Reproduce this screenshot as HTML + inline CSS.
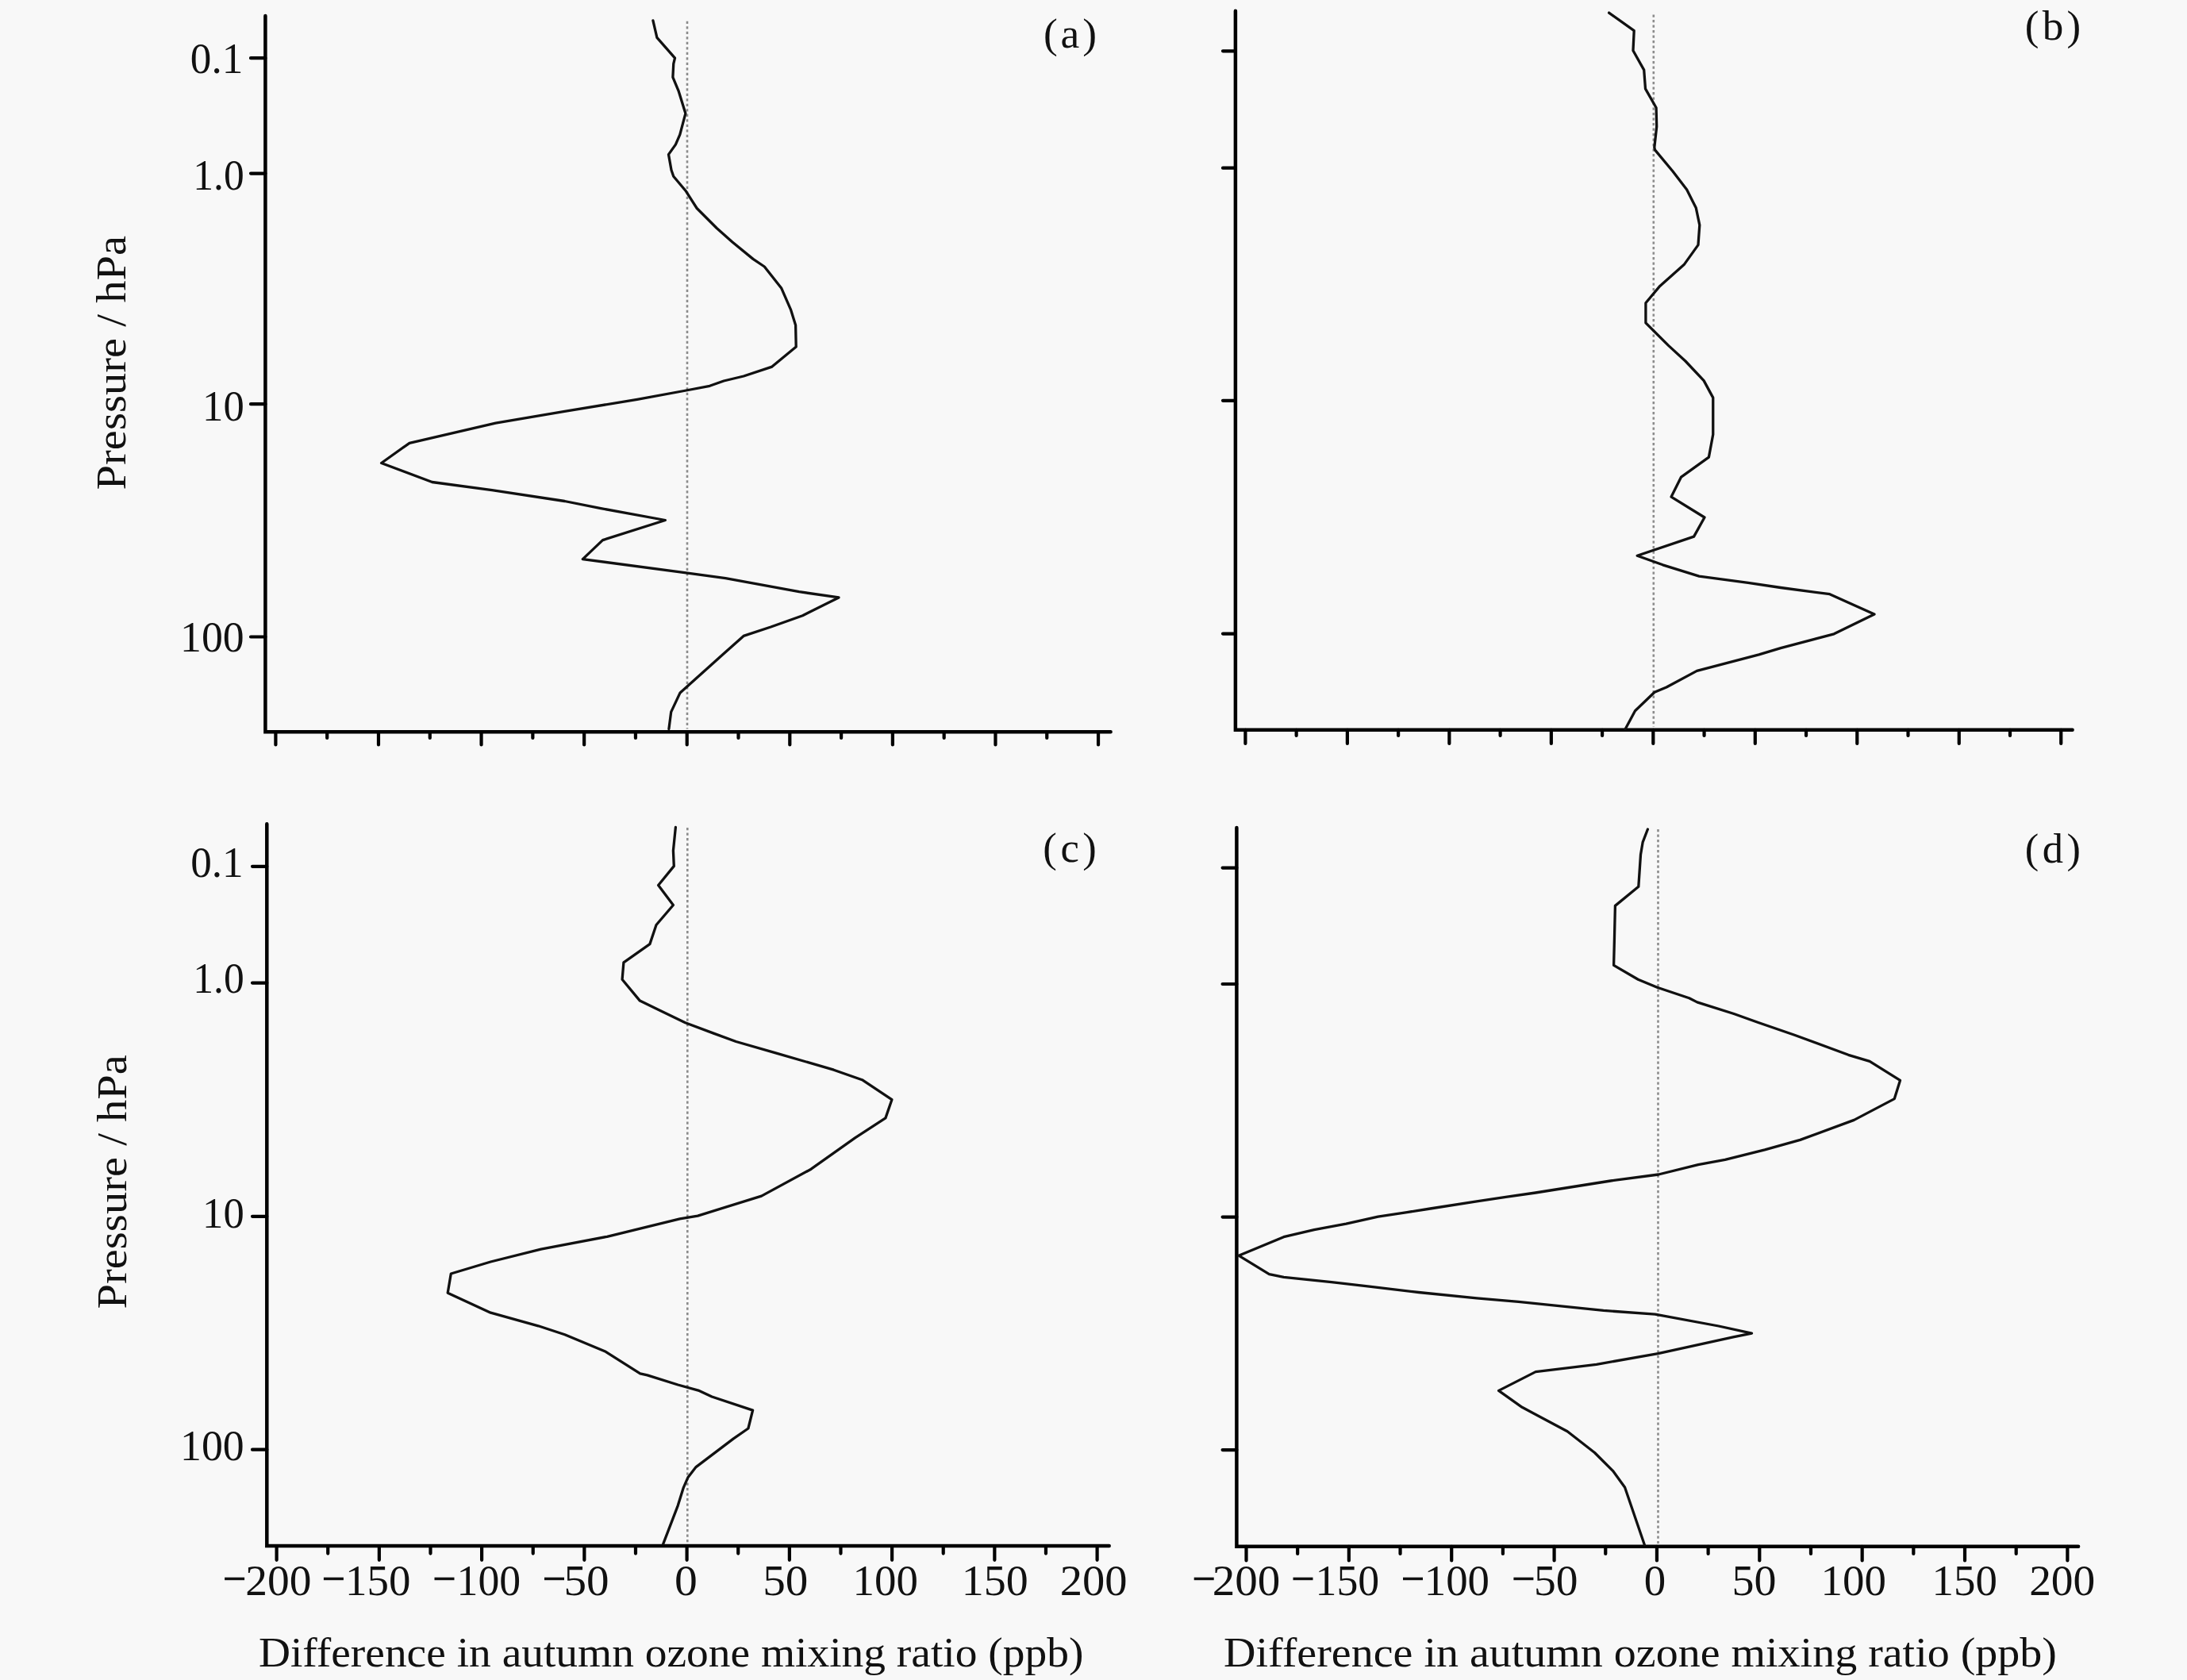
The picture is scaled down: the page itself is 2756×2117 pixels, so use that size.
<!DOCTYPE html><html><head><meta charset="utf-8"><style>html,body{margin:0;padding:0;background:#f8f8f8;overflow:hidden}svg{display:block}text{font-family:"Liberation Serif",serif;fill:#111}</style></head><body>
<svg width="2756" height="2117" viewBox="0 0 2756 2117">
<rect width="2756" height="2117" fill="#f8f8f8"/>
<line x1="866" y1="26.8" x2="866" y2="918.6" stroke="#8c8c8c" stroke-width="2.6" stroke-dasharray="3.2 3.3"/>
<path d="M334.4 20L334.4 922.3L1399.6 922.3" fill="none" stroke="#000" stroke-width="4.5" stroke-linejoin="miter" stroke-linecap="round"/>
<path d="M347.4 922.3V938.5M412.19 922.3V930M476.98 922.3V938.5M541.77 922.3V930M606.56 922.3V938.5M671.35 922.3V930M736.14 922.3V938.5M800.93 922.3V930M865.72 922.3V938.5M930.51 922.3V930M995.3 922.3V938.5M1060.09 922.3V930M1124.88 922.3V938.5M1189.67 922.3V930M1254.46 922.3V938.5M1319.25 922.3V930M1384.04 922.3V938.5" stroke="#000" stroke-width="4.2" stroke-linecap="round"/>
<path d="M316 73.2H334.4M316 218.6H334.4M316 509.2H334.4M316 802.5H334.4" stroke="#000" stroke-width="4.2" stroke-linecap="round"/>
<polyline points="822.9,25.9 827.9,47.3 850.5,73.2 848.75,80.4 847.9,97.3 855,114.3 863.9,142.9 856.8,169.6 851.4,182.1 842.5,194.6 846,214.3 848.75,222.3 863.9,240.2 878.2,262.5 903.2,287.5 922.9,305 949,326.4 963.3,336 984.8,363.3 996.7,390.7 1002.6,409.8 1003.2,437.1 972.9,462.1 937.1,474 912.1,480 894.4,486.3 864.7,492 802.9,503.4 711.5,518.3 624.6,533.2 516,558.3 480.6,583.5 544.6,607.5 620,617.7 711.5,631.5 757.2,640.6 838.4,655.5 759.5,680.6 734.3,704.6 864.7,721.8 914.3,728.6 1007,745.7 1057,752.9 1011.4,775.7 971.4,790 937,801.4 911.4,824.3 857.1,872.9 845.7,897.1 842.9,918.6" fill="none" stroke="#111" stroke-width="3.3" stroke-linejoin="round" stroke-linecap="round"/>
<line x1="2083.8" y1="18.5" x2="2083.8" y2="916" stroke="#8c8c8c" stroke-width="2.6" stroke-dasharray="3.2 3.3"/>
<path d="M1556.9 13.7L1556.9 919.8L2611.6 919.8" fill="none" stroke="#000" stroke-width="4.5" stroke-linejoin="miter" stroke-linecap="round"/>
<path d="M1569.4 919.8V937M1633.64 919.8V927M1697.88 919.8V937M1762.12 919.8V927M1826.36 919.8V937M1890.6 919.8V927M1954.84 919.8V937M2019.08 919.8V927M2083.32 919.8V937M2147.56 919.8V927M2211.8 919.8V937M2276.04 919.8V927M2340.28 919.8V937M2404.52 919.8V927M2468.76 919.8V937M2533 919.8V927M2597.24 919.8V937" stroke="#000" stroke-width="4.2" stroke-linecap="round"/>
<path d="M1541 64.3H1556.9M1541 211.7H1556.9M1541 504.8H1556.9M1541 798.6H1556.9" stroke="#000" stroke-width="4.2" stroke-linecap="round"/>
<polyline points="2027.6,16.1 2059.2,38.7 2058,63.7 2071.7,88.1 2073.5,111.9 2087.1,135.7 2087.7,159.5 2084.8,185.7 2085.5,188.9 2107.9,215.7 2125.7,238.9 2137.3,262.1 2141.8,283.6 2140,308.6 2122.1,333.6 2091.8,360.4 2073.9,381.8 2073.9,406.8 2102.5,435.4 2123.9,455 2147.1,479.6 2158.75,501.1 2158.75,547.5 2153.4,576.1 2118.6,601.1 2106.1,626.1 2148,652 2134.6,676.1 2063.2,700.2 2095.4,711.8 2141.2,726.1 2202.9,734.3 2244,740.5 2305.8,748.7 2362,774.1 2311.2,798.8 2244,816.6 2216.6,824.8 2138.4,845.4 2100,866 2085,872.3 2060.5,895.7 2048,919" fill="none" stroke="#111" stroke-width="3.3" stroke-linejoin="round" stroke-linecap="round"/>
<line x1="866.3" y1="1043" x2="866.3" y2="1945" stroke="#8c8c8c" stroke-width="2.6" stroke-dasharray="3.2 3.3"/>
<path d="M336.3 1038.3L336.3 1948L1397.7 1948" fill="none" stroke="#000" stroke-width="4.5" stroke-linejoin="miter" stroke-linecap="round"/>
<path d="M348.6 1948V1965.8M413.23 1948V1957.6M477.85 1948V1965.8M542.48 1948V1957.6M607.1 1948V1965.8M671.73 1948V1957.6M736.35 1948V1965.8M800.98 1948V1957.6M865.6 1948V1965.8M930.23 1948V1957.6M994.85 1948V1965.8M1059.47 1948V1957.6M1124.1 1948V1965.8M1188.72 1948V1957.6M1253.35 1948V1965.8M1317.97 1948V1957.6M1382.6 1948V1965.8" stroke="#000" stroke-width="4.2" stroke-linecap="round"/>
<path d="M318 1091.8H336.3M318 1238.6H336.3M318 1532.8H336.3M318 1826.7H336.3" stroke="#000" stroke-width="4.2" stroke-linecap="round"/>
<polyline points="851.4,1042.3 848.4,1071.8 849.3,1091.4 829.6,1115.5 848.4,1140.5 827,1165.5 818.9,1189.6 785.9,1212.9 784.1,1234.3 806.4,1261.1 863.6,1288.75 899.3,1302.1 927.5,1312.5 977.5,1326.8 1050.7,1348.2 1086.4,1360.7 1123.9,1385.7 1115.9,1408.9 1077.5,1433.9 1022.1,1473.2 959.6,1507.1 879.3,1532.1 856.7,1535.8 765,1558.3 681.7,1574.2 618.3,1590 568.3,1605 564.2,1629.2 618.3,1654.2 678.3,1670.8 711.7,1681.7 763.3,1703.3 806.7,1730.8 815.7,1732.9 854.3,1745 880,1752.1 897.1,1760 948.6,1777.1 942.9,1800 924.3,1812.9 877.1,1848.6 867.1,1861.4 861.4,1874.3 854.3,1897.1 835.7,1945.7" fill="none" stroke="#111" stroke-width="3.3" stroke-linejoin="round" stroke-linecap="round"/>
<line x1="2089.5" y1="1045" x2="2089.5" y2="1945" stroke="#8c8c8c" stroke-width="2.6" stroke-dasharray="3.2 3.3"/>
<path d="M1558.4 1042.9L1558.4 1948.8L2619.1 1948.8" fill="none" stroke="#000" stroke-width="4.5" stroke-linejoin="miter" stroke-linecap="round"/>
<path d="M1570.5 1948.8V1966.5M1635.18 1948.8V1958M1699.86 1948.8V1966.5M1764.54 1948.8V1958M1829.22 1948.8V1966.5M1893.9 1948.8V1958M1958.58 1948.8V1966.5M2023.26 1948.8V1958M2087.94 1948.8V1966.5M2152.62 1948.8V1958M2217.3 1948.8V1966.5M2281.98 1948.8V1958M2346.66 1948.8V1966.5M2411.34 1948.8V1958M2476.02 1948.8V1966.5M2540.7 1948.8V1958M2605.38 1948.8V1966.5" stroke="#000" stroke-width="4.2" stroke-linecap="round"/>
<path d="M1540.6 1093.6H1558.4M1540.6 1240H1558.4M1540.6 1533.6H1558.4M1540.6 1827.1H1558.4" stroke="#000" stroke-width="4.2" stroke-linecap="round"/>
<polyline points="2076.4,1045 2070.2,1061.1 2067.5,1077.1 2064.8,1117.3 2035.4,1141.4 2034.5,1180.7 2033.6,1216.4 2064.3,1234.2 2088.4,1244.3 2128.7,1257.8 2138.7,1262.9 2185,1277.5 2215,1288.2 2261.4,1304.3 2329.3,1329.3 2356.1,1337.3 2394.5,1361.4 2387.3,1384.6 2336.4,1411.4 2268.6,1436.4 2223.9,1448.9 2173.9,1461.4 2140,1467.7 2090,1480 2029.6,1488 1935,1503 1897.5,1508.4 1860.9,1513.9 1802.4,1523 1773.1,1527.6 1736.6,1533.1 1696.3,1542.2 1656.1,1549.6 1617.7,1558.7 1561,1582.2 1599.4,1605.6 1617.7,1609.3 1678,1615.7 1725.6,1621.2 1787.8,1628.5 1860.9,1635.8 1913.6,1640.4 2020.7,1651.4 2085.7,1656.2 2165.8,1671 2207.5,1680.1 2184.1,1684.9 2089.5,1705.7 2011.8,1719.3 1935.2,1728.6 1888.6,1752.4 1918.1,1773.3 1975.2,1803.8 2009.5,1830.5 2032.4,1853.3 2047.6,1874.3 2072.4,1946.7" fill="none" stroke="#111" stroke-width="3.3" stroke-linejoin="round" stroke-linecap="round"/>
<text transform="matrix(0.95 0 0 0.97 239.8 92.3)" font-size="56">0.1</text>
<text transform="matrix(0.92 0 0 0.99 243.3 238.6)" font-size="56">1.0</text>
<text transform="matrix(0.94 0 0 0.97 255.1 530)" font-size="56">10</text>
<text transform="matrix(0.96 0 0 0.98 227.09 821.2)" font-size="56">100</text>
<text transform="matrix(0.95 0 0 0.97 240.2 1105)" font-size="56">0.1</text>
<text transform="matrix(0.92 0 0 0.97 243.3 1251.1)" font-size="56">1.0</text>
<text transform="matrix(0.94 0 0 0.99 255.1 1546.5)" font-size="56">10</text>
<text transform="matrix(0.96 0 0 0.97 227.09 1839.8)" font-size="56">100</text>
<text x="1314.94" y="59.64" font-size="53.47" letter-spacing="3.84">(a)</text>
<text x="2551.76" y="50.12" font-size="53.09" letter-spacing="4.21">(b)</text>
<text x="1314.28" y="1085.91" font-size="52.71" letter-spacing="4.58">(c)</text>
<text x="2551.79" y="1086.66" font-size="52.45" letter-spacing="4.55">(d)</text>
<text transform="matrix(0.99 0 0 0.99 309.22 2010)" font-size="56">200</text>
<text transform="matrix(0.98 0 0 0.99 435.1 2010)" font-size="56">150</text>
<text transform="matrix(0.96 0 0 0.99 575.59 2010)" font-size="56">100</text>
<text transform="matrix(1.02 0 0 0.99 710.44 2010)" font-size="56">50</text>
<text transform="matrix(1.03 0 0 0.99 849.94 2010)" font-size="56">0</text>
<text transform="matrix(1.02 0 0 0.99 961.24 2010)" font-size="56">50</text>
<text transform="matrix(0.98 0 0 0.99 1074.6 2010)" font-size="56">100</text>
<text transform="matrix(1 0 0 0.99 1211.71 2010)" font-size="56">150</text>
<text transform="matrix(1.01 0 0 0.99 1335.68 2010)" font-size="56">200</text>
<text transform="matrix(1.02 0 0 0.99 1527.73 2010)" font-size="56">200</text>
<text transform="matrix(0.96 0 0 0.99 1657.59 2010)" font-size="56">150</text>
<text transform="matrix(0.98 0 0 0.99 1794.7 2010)" font-size="56">100</text>
<text transform="matrix(0.99 0 0 0.99 1933.04 2010)" font-size="56">50</text>
<text transform="matrix(0.98 0 0 0.99 2071.73 2010)" font-size="56">0</text>
<text transform="matrix(1 0 0 0.99 2182.61 2010)" font-size="56">50</text>
<text transform="matrix(0.98 0 0 0.99 2294.6 2010)" font-size="56">100</text>
<text transform="matrix(0.98 0 0 0.99 2434.5 2010)" font-size="56">150</text>
<text transform="matrix(0.99 0 0 0.99 2557.13 2010)" font-size="56">200</text>
<text transform="matrix(0.99 0 0 0.96 325.91 2099.83)" font-size="56">Difference in autumn ozone mixing ratio (ppb)</text>
<text transform="matrix(1 0 0 0.96 1542.1 2099.74)" font-size="56">Difference in autumn ozone mixing ratio (ppb)</text>
<text transform="matrix(0 -1.01 0.93 0 158.3 617.42)" font-size="56">Pressure / hPa</text>
<text transform="matrix(0 -1.01 0.93 0 159.4 1649.52)" font-size="56">Pressure / hPa</text>
<rect x="283.1" y="1987.7" width="25" height="3.5" fill="#111"/>
<rect x="407.9" y="1987.7" width="25" height="3.5" fill="#111"/>
<rect x="547.5" y="1987.7" width="25" height="3.5" fill="#111"/>
<rect x="686" y="1987.7" width="25" height="3.5" fill="#111"/>
<rect x="1504.7" y="1987.7" width="25" height="3.5" fill="#111"/>
<rect x="1629.5" y="1987.7" width="25" height="3.5" fill="#111"/>
<rect x="1768" y="1987.7" width="25" height="3.5" fill="#111"/>
<rect x="1907.4" y="1987.7" width="25" height="3.5" fill="#111"/>
</svg></body></html>
